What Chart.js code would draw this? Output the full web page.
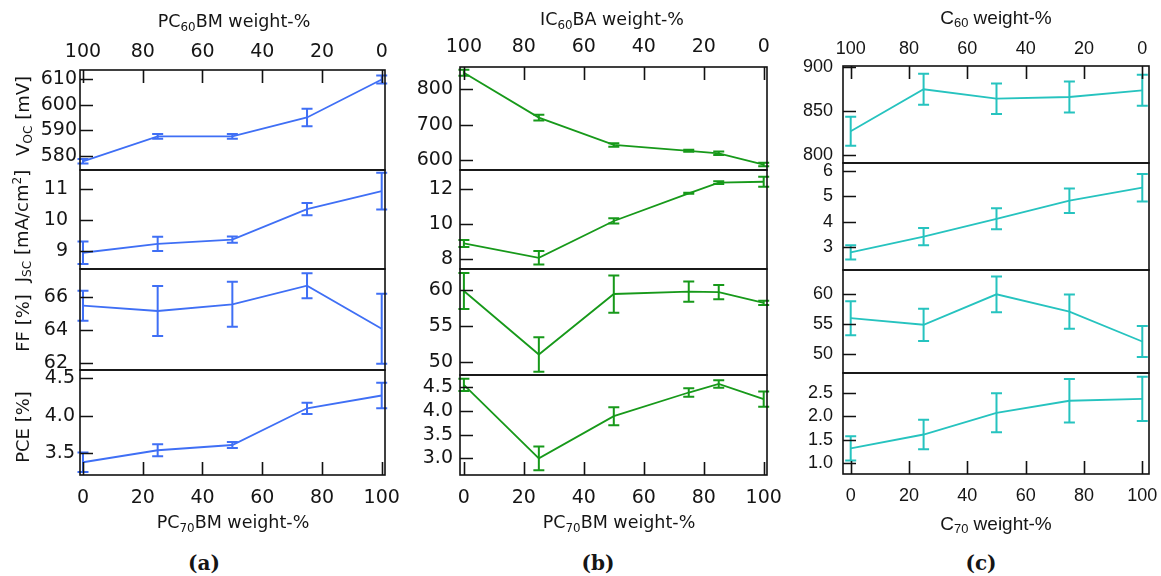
<!DOCTYPE html>
<html>
<head>
<meta charset="utf-8">
<script src="https://cdn.jsdelivr.net/npm/chart.js@4.4.1/dist/chart.umd.min.js"></script>
<style>
  html, body { margin: 0; padding: 0; background: #fff; }
  #fig { position: relative; width: 1161px; height: 576px; overflow: hidden; background: #fff; }
  #fig canvas { position: absolute; }
  .t { position: absolute; white-space: nowrap; transform: translate(-50%, -50%);
       font-family: "DejaVu Sans", sans-serif; font-size: 17.5px; color: #151515; line-height: 1; z-index: 2; }
  .t.c { font-family: "Liberation Sans", Arial, sans-serif; font-size: 19px; }
  .t.r { transform: translate(-50%, -50%) rotate(-90deg); font-size: 18px; }
  .t.p { font-family: "DejaVu Serif", serif; font-weight: bold; font-size: 20px; }
  .sb { font-size: 0.68em; vertical-align: -0.28em; line-height: 0; }
  .sp { font-size: 0.68em; vertical-align: 0.55em; line-height: 0; }
</style>
</head>
<body>
<div id="fig">
  <div class="t" style="left:234px;top:22px">PC<span class="sb">60</span>BM weight-%</div>
  <div class="t" style="left:612px;top:20px">IC<span class="sb">60</span>BA weight-%</div>
  <div class="t c" style="left:996px;top:17px">C<span class="sb">60</span> weight-%</div>

  <div class="t" style="left:233px;top:523px">PC<span class="sb">70</span>BM weight-%</div>
  <div class="t" style="left:619px;top:523px">PC<span class="sb">70</span>BM weight-%</div>
  <div class="t c" style="left:996px;top:523px">C<span class="sb">70</span> weight-%</div>

  <div class="t r" style="left:23px;top:116px">V<span class="sb">OC</span> [mV]</div>
  <div class="t r" style="left:22px;top:226px">J<span class="sb">SC</span> [mA/cm<span class="sp">2</span>]</div>
  <div class="t r" style="left:23px;top:323px">FF [%]</div>
  <div class="t r" style="left:23px;top:427px">PCE [%]</div>

  <div class="t p" style="left:204px;top:563px">(a)</div>
  <div class="t p" style="left:598px;top:563px">(b)</div>
  <div class="t p" style="left:981px;top:563px">(c)</div>
</div>
<script>
// ── Data ───────────────────────────────────────────────────────────────────

const X_TICKS = [0, 20, 40, 60, 80, 100];

// (a) PC60BM / PC70BM
const xA       = [0, 25, 50, 75, 100];
const vocA     = [577.9, 587.6, 587.6, 595.0, 609.8];
const vocAErr  = [0.9, 0.9, 0.9, 3.4, 1.6];
const jscA     = [8.93, 9.22, 9.36, 10.35, 10.94];
const jscAErr  = [0.37, 0.23, 0.10, 0.20, 0.60];
const ffA      = [65.46, 65.14, 65.54, 66.66, 64.08];
const ffAErr   = [0.90, 1.50, 1.35, 0.75, 2.10];
const pceA     = [3.38, 3.54, 3.61, 4.10, 4.27];
const pceAErr  = [0.13, 0.08, 0.04, 0.075, 0.17];

// (b) IC60BA / PC70BM
const xB       = [0, 25, 50, 75, 85, 100];
const vocB     = [847, 720, 642.5, 626, 619, 587];
const vocBErr  = [8.5, 8, 5, 3, 5, 5];
const jscB     = [8.91, 8.09, 10.19, 11.77, 12.38, 12.43];
const jscBErr  = [0.20, 0.39, 0.15, 0.03, 0.08, 0.28];
const ffB      = [59.86, 51.0, 59.44, 59.77, 59.70, 58.20];
const ffBErr   = [2.5, 2.4, 2.6, 1.4, 1.0, 0.3];
const pceB     = [4.55, 3.00, 3.89, 4.39, 4.57, 4.25];
const pceBErr  = [0.13, 0.25, 0.19, 0.09, 0.08, 0.16];

// (c) C60 / C70
const xC       = [0, 25, 50, 75, 100];
const vocC     = [826.8, 874.4, 863.8, 865.7, 873.3];
const vocCErr  = [16.4, 17.5, 17.3, 17.5, 17.5];
const jscC     = [2.80, 3.42, 4.12, 4.83, 5.34];
const jscCErr  = [0.28, 0.34, 0.41, 0.48, 0.54];
const ffC      = [56.0, 54.9, 60.0, 57.1, 52.1];
const ffCErr   = [2.85, 2.70, 3.00, 2.85, 2.60];
const pceC     = [1.31, 1.61, 2.08, 2.34, 2.38];
const pceCErr  = [0.26, 0.32, 0.42, 0.47, 0.48];

// y tick labels
const vocATicks = [580, 590, 600, 610];
const jscATicks = [9, 10, 11];
const ffATicks  = [62, 64, 66];
const pceATicks = [3.5, 4.0, 4.5];
const vocBTicks = [600, 700, 800];
const jscBTicks = [8, 10, 12];
const ffBTicks  = [50, 55, 60];
const pceBTicks = [3.0, 3.5, 4.0, 4.5];
const vocCTicks = [800, 850, 900];
const jscCTicks = [3, 4, 5, 6];
const ffCTicks  = [50, 55, 60];
const pceCTicks = [1.0, 1.5, 2.0, 2.5];

// ── Layout of the three columns ────────────────────────────────────────────

const FONT_AB = { family: "'DejaVu Sans', sans-serif", size: 19 };
const FONT_C  = { family: "'Liberation Sans', Arial, sans-serif", size: 18 };

const COLUMNS = [
  { l: 80,  r: 385,  rows: [70, 170, 269, 370, 475], xMin: -1.0,  xMax: 101.1, color: "#3f6ff5",
    font: FONT_AB, topPad: 7,  botPad: 12, x: xA,
    panels: [
      { y: vocA, err: vocAErr, ticks: vocATicks, min: 574.5, max: 613.5, dec: 0, lp: 3 },
      { y: jscA, err: jscAErr, ticks: jscATicks, min: 8.40,  max: 11.63, dec: 0, lp: 12 },
      { y: ffA,  err: ffAErr,  ticks: ffATicks,  min: 61.6,  max: 67.66, dec: 0, lp: 12 },
      { y: pceA, err: pceAErr, ticks: pceATicks, min: 3.21,  max: 4.61,  dec: 1, lp: 5 },
    ] },
  { l: 460, r: 767,  rows: [67, 170, 269, 375, 475], xMin: -1.3,  xMax: 101.1, color: "#17991a",
    font: FONT_AB, topPad: 9,  botPad: 12, x: xB,
    panels: [
      { y: vocB, err: vocBErr, ticks: vocBTicks, min: 571.7, max: 863,   dec: 0, lp: 7 },
      { y: jscB, err: jscBErr, ticks: jscBTicks, min: 7.45,  max: 13.1,  dec: 0, lp: 7 },
      { y: ffB,  err: ffBErr,  ticks: ffBTicks,  min: 48.14, max: 62.93, dec: 0, lp: 7 },
      { y: pceB, err: pceBErr, ticks: pceBTicks, min: 2.647, max: 4.76,  dec: 1, lp: 7 },
    ] },
  { l: 843, r: 1149, rows: [66, 163, 270, 373, 474], xMin: -2.64, xMax: 102.3, color: "#26c3bf",
    font: FONT_C, topPad: 6,  botPad: 11, x: xC,
    panels: [
      { y: vocC, err: vocCErr, ticks: vocCTicks, min: 790.9, max: 900.8, dec: 0, lp: 10 },
      { y: jscC, err: jscCErr, ticks: jscCTicks, min: 2.107, max: 6.31,  dec: 0, lp: 10 },
      { y: ffC,  err: ffCErr,  ticks: ffCTicks,  min: 46.82, max: 64.07, dec: 0, lp: 10 },
      { y: pceC, err: pceCErr, ticks: pceCTicks, min: 0.756, max: 2.94,  dec: 1, lp: 10 },
    ] },
];

// ── Plugins ────────────────────────────────────────────────────────────────

const CAP = 5.5;

const errorBars = {
  id: "errorBars",
  afterDatasetsDraw(chart) {
    const { ctx, scales: { x, y } } = chart;
    chart.data.datasets.forEach(ds => {
      ctx.save();
      ctx.strokeStyle = ds.borderColor;
      ctx.lineWidth = 2;
      ctx.beginPath();
      ds.data.forEach((p, i) => {
        const px = x.getPixelForValue(p.x);
        const lo = y.getPixelForValue(p.y - ds.errors[i]);
        const hi = y.getPixelForValue(p.y + ds.errors[i]);
        ctx.moveTo(px, lo); ctx.lineTo(px, hi);
        ctx.moveTo(px - CAP, lo); ctx.lineTo(px + CAP, lo);
        ctx.moveTo(px - CAP, hi); ctx.lineTo(px + CAP, hi);
      });
      ctx.stroke();
      ctx.restore();
    });
  }
};

// box around the plot, ticks pointing inwards
const frame = {
  id: "frame",
  afterDraw(chart, args, opts) {
    const { ctx, chartArea: a, scales: { x, y } } = chart;
    ctx.save();
    ctx.strokeStyle = "#111";
    ctx.lineWidth = 1.6;
    ctx.strokeRect(a.left, a.top, a.right - a.left, a.bottom - a.top);
    ctx.beginPath();
    y.ticks.forEach(t => {
      const py = Math.round(y.getPixelForValue(t.value)) + 0.5;
      ctx.moveTo(a.left, py); ctx.lineTo(a.left + 13, py);
    });
    if (opts.side === "top" || opts.side === "bottom") {
      x.ticks.forEach(t => {
        const px = Math.round(x.getPixelForValue(t.value)) + 0.5;
        if (opts.side === "top") { ctx.moveTo(px, a.top); ctx.lineTo(px, a.top + 13); }
        else { ctx.moveTo(px, a.bottom); ctx.lineTo(px, a.bottom - 13); }
      });
    }
    ctx.stroke();
    ctx.restore();
  }
};

// ── Panels ─────────────────────────────────────────────────────────────────

const PAD_L = 75, PAD_R = 30, PAD_V = 16, AXIS_TOP = 70, AXIS_BOT = 60;

function addPanel(col, row) {
  const p = col.panels[row];
  const first = row === 0, last = row === 3;
  const top = col.rows[row], bottom = col.rows[row + 1];
  const above = first ? AXIS_TOP : PAD_V;
  const below = last ? AXIS_BOT : PAD_V;

  const canvas = document.createElement("canvas");
  canvas.width  = col.r - col.l + PAD_L + PAD_R;
  canvas.height = bottom - top + above + below;
  canvas.style.left = (col.l - PAD_L) + "px";
  canvas.style.top  = (top - above) + "px";
  document.getElementById("fig").appendChild(canvas);

  const showX = first || last;

  new Chart(canvas.getContext("2d"), {
    type: "line",
    data: {
      datasets: [{
        data: col.x.map((v, i) => ({ x: v, y: p.y[i] })),
        errors: p.err,
        borderColor: col.color,
        borderWidth: 1.8,
        pointRadius: 0,
        tension: 0,
        clip: false,
      }],
    },
    options: {
      responsive: false,
      animation: false,
      devicePixelRatio: 1,
      layout: { padding: { left: 0, right: PAD_R, top: first ? 0 : PAD_V, bottom: last ? 0 : PAD_V } },
      plugins: {
        legend: { display: false },
        tooltip: { enabled: false },
        frame: { side: first ? "top" : last ? "bottom" : null },
      },
      scales: {
        x: {
          type: "linear",
          position: first ? "top" : "bottom",
          display: showX,
          min: col.xMin, max: col.xMax,
          afterBuildTicks: s => { s.ticks = X_TICKS.map(v => ({ value: v })); },
          afterFit: s => {
            if (showX) s.height = first ? AXIS_TOP : AXIS_BOT;
            s.paddingLeft = 0; s.paddingRight = 0;
          },
          grid: { display: false, drawTicks: false },
          border: { display: false },
          ticks: {
            color: "#151515",
            font: col.font,
            padding: first ? col.topPad : col.botPad,
            maxRotation: 0,
            callback: v => first ? String(100 - v) : String(v),
          },
        },
        y: {
          type: "linear",
          min: p.min, max: p.max,
          afterBuildTicks: s => { s.ticks = p.ticks.map(v => ({ value: v })); },
          afterFit: s => { s.width = PAD_L; s.paddingTop = 0; s.paddingBottom = 0; },
          grid: { display: false, drawTicks: false },
          border: { display: false },
          ticks: {
            color: "#151515",
            font: col.font,
            padding: p.lp,
            callback: v => Number(v).toFixed(p.dec),
          },
        },
      },
    },
    plugins: [errorBars, frame],
  });
}

COLUMNS.forEach(col => col.panels.forEach((_, row) => addPanel(col, row)));
</script>
</body>
</html>
